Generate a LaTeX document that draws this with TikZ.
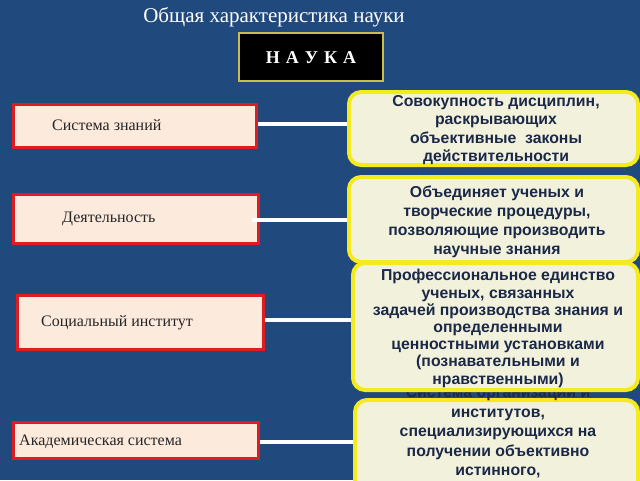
\documentclass[tikz,border=0pt]{standalone}
\usepackage{fontspec}
\setmainfont{Liberation Serif}
\newfontfamily\arialf{Liberation Sans}
\definecolor{bgblue}{RGB}{32,73,125}
\definecolor{lfill}{RGB}{252,234,221}
\definecolor{lred}{RGB}{220,30,35}
\definecolor{rfill}{RGB}{242,242,220}
\definecolor{ryellow}{RGB}{244,234,30}
\definecolor{rtext}{RGB}{28,40,72}
\definecolor{ltext}{RGB}{38,38,38}
\definecolor{kgold}{RGB}{200,190,80}
\tikzset{
  lbox/.style={draw=lred, line width=3pt, fill=lfill, rectangle, inner sep=0pt},
  rbox/.style={draw=ryellow, line width=4pt, fill=rfill, rounded corners=12pt, inner sep=0pt},
  ltxt/.style={font=\fontsize{16}{18}\selectfont, text=ltext, anchor=west, inner sep=0pt},
  rtxt/.style={font=\arialf\bfseries\fontsize{15.8}{18.5}\selectfont, text=rtext, align=center, inner sep=0pt},
  conn/.style={draw=white, line width=4pt}
}
\begin{document}
\begin{tikzpicture}[x=1pt,y=-1pt]
\useasboundingbox (0,0) rectangle (640,480);
\clip (0,0) rectangle (640,480);
\fill[bgblue] (0,0) rectangle (640,480);
% title
\node[font=\fontsize{21}{24}\selectfont, text=white, inner sep=0pt] (title) at (274,17) {Общая характеристика науки};
\node[draw=kgold, line width=1.2pt, fill=black, minimum width=144pt, minimum height=48pt, inner sep=0pt] (nauka) at (311,57) {};
\node[font=\bfseries\fontsize{18}{20}\selectfont, text=white, inner sep=0pt] (naukat) at (311,58) {Н\,\,А\,\,У\,\,К\,\,А};
% left boxes
\node[lbox, minimum width=243pt, minimum height=43pt] (l1) at (134.5,125.5) {};
\node[lbox, minimum width=245pt, minimum height=49pt] (l2) at (135.5,218.5) {};
\node[lbox, minimum width=246pt, minimum height=54pt] (l3) at (140,322) {};
\node[lbox, minimum width=245pt, minimum height=36pt] (l4) at (135.5,440) {};
\node[ltxt] (lt1) at (52,125) {Система знаний};
\node[ltxt] (lt2) at (62,219) {Деятельность};
\node[ltxt] (lt3) at (41,323) {Социальный институт};
\node[ltxt] (lt4) at (19,442) {Академическая система};
% right boxes (4 first, so 3 overlaps it)
\node[rbox, minimum width=283pt, minimum height=92pt] (r4) at (496.5,446) {};
\node[rtxt, font=\arialf\bfseries\fontsize{15.8}{19.5}\selectfont] (rt4) at (498,432) {Система организаций и\\институтов,\\специализирующихся на\\получении объективно\\истинного,};
\node[rbox, minimum width=285pt, minimum height=127pt] (r3) at (495.5,326.5) {};
\node[rtxt, font=\arialf\bfseries\fontsize{15.8}{17.2}\selectfont] (rt3) at (498,328.5) {Профессиональное единство\\ученых, связанных\\задачей производства знания и\\определенными\\ценностными установками\\(познавательными и\\нравственными)};
\node[rbox, minimum width=289pt, minimum height=85pt] (r2) at (493.5,219.5) {};
\node[rtxt, font=\arialf\bfseries\fontsize{15.8}{19}\selectfont] (rt2) at (497,221.5) {Объединяет ученых и\\творческие процедуры,\\позволяющие производить\\научные знания};
\node[rbox, minimum width=289pt, minimum height=73pt] (r1) at (493.5,128.5) {};
\node[rtxt] (rt1) at (496,130) {Совокупность дисциплин,\\раскрывающих\\объективные\ \ законы\\действительности};
% connectors
\coordinate (c1) at ([yshift=1.5pt]l1.east);
\coordinate (c2) at ([xshift=-8pt,yshift=-1.5pt]l2.east);
\coordinate (c3) at ([yshift=2pt]l3.east);
\coordinate (c4) at ([yshift=-2pt]l4.east);
\draw[conn] (c1) -- (r1.west |- c1);
\draw[conn] (c2) -- (r2.west |- c2);
\draw[conn] (c3) -- (r3.west |- c3);
\draw[conn] (c4) -- (r4.west |- c4);
\end{tikzpicture}
\end{document}
